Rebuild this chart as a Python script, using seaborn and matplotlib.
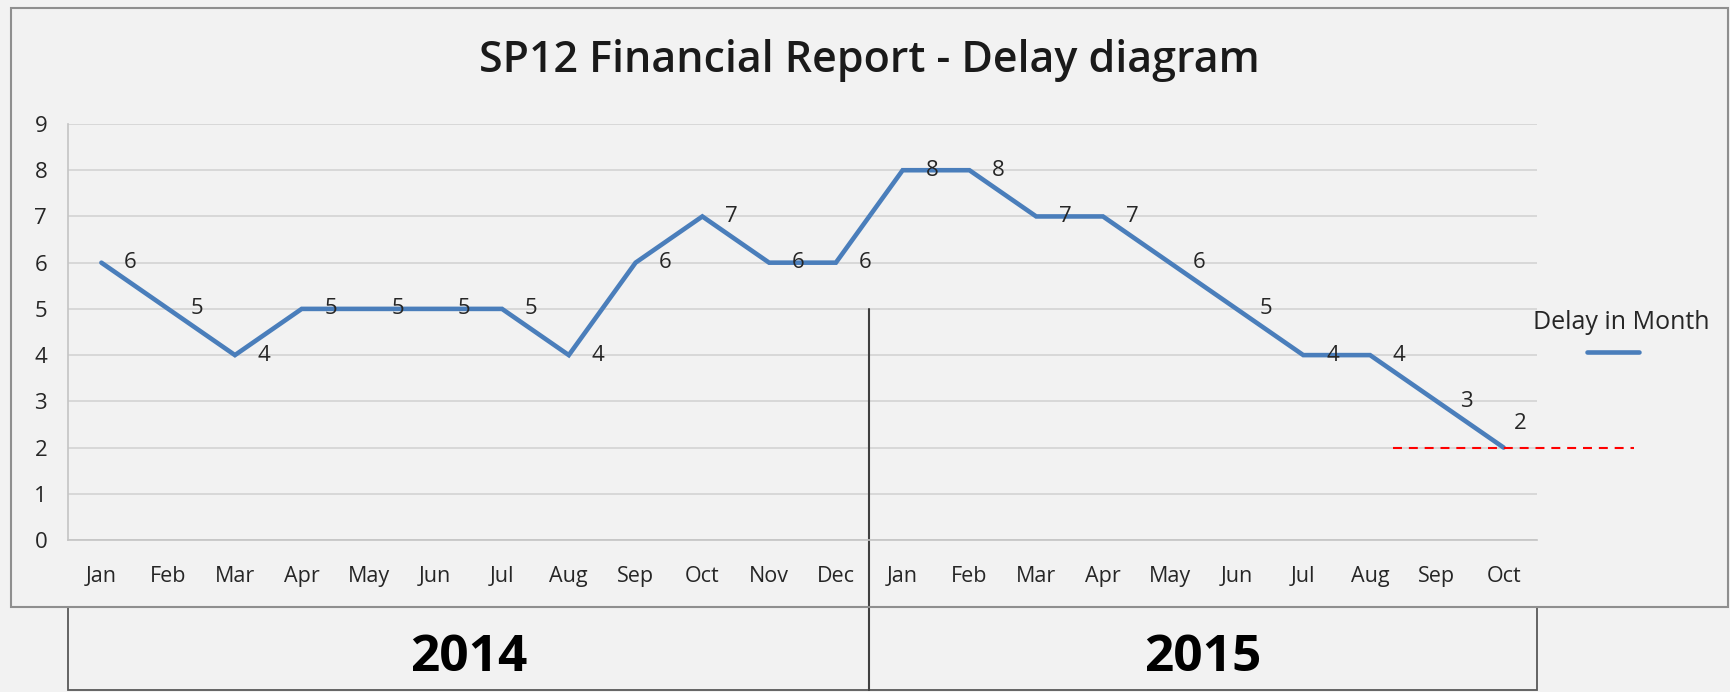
import matplotlib.pyplot as plt
import matplotlib.transforms as mtransforms
import numpy as np
import pandas as pd
import seaborn as sns
from matplotlib.patches import Rectangle

plt.switch_backend("Agg")

# values
months_2014 = ["Jan", "Feb", "Mar", "Apr", "May", "Jun",
               "Jul", "Aug", "Sep", "Oct", "Nov", "Dec"]
months_2015 = ["Jan", "Feb", "Mar", "Apr", "May", "Jun",
               "Jul", "Aug", "Sep", "Oct"]
delay_2014 = [6, 5, 4, 5, 5, 5, 5, 4, 6, 7, 6, 6]
delay_2015 = [8, 8, 7, 7, 6, 5, 4, 4, 3, 2]
years = ["2014", "2015"]
target_delay = 2
series_name = "Delay in Month"
title = "SP12 Financial Report - Delay diagram"

BG = "#f2f2f2"
LINE = "#4a7ebb"
GRID = "#d3d3d3"

sns.set_style("white", {"axes.facecolor": BG, "figure.facecolor": BG})
plt.rcParams["font.family"] = ["Open Sans", "DejaVu Sans"]

labels = months_2014 + months_2015
values = delay_2014 + delay_2015
df = pd.DataFrame({"pos": np.arange(len(values)), "delay": values})

fig = plt.figure(figsize=(17.31, 6.92), dpi=100)
fig.patch.set_facecolor(BG)
W, H = 1731, 692
ax = fig.add_axes([68 / W, 1 - 540 / H, (1537 - 68) / W, (540 - 124) / H])

sns.lineplot(data=df, x="pos", y="delay", ax=ax, color=LINE,
             linewidth=3.3, solid_joinstyle="miter")

ax.set_xlim(-0.5, len(values) - 0.5)
ax.set_ylim(0, 9)
ax.set_yticks(range(0, 10))
ax.set_xticks(df["pos"])
ax.set_xticklabels(labels)
ax.set_xticks(np.arange(-0.5, len(values)), minor=True)
ax.set_xlabel("")
ax.set_ylabel("")
ax.grid(axis="y", color=GRID, linewidth=1.2)
ax.set_axisbelow(True)
for side in ["top", "right"]:
    ax.spines[side].set_visible(False)
for side in ["left", "bottom"]:
    ax.spines[side].set_color("#c4c4c4")
    ax.spines[side].set_linewidth(1.2)
ax.tick_params(axis="x", which="major", length=0, pad=19, labelsize=15.5,
               labelcolor="#262626")
ax.tick_params(axis="x", which="minor", length=6, color="#c4c4c4",
               direction="out")
ax.tick_params(axis="y", length=5, color="#c4c4c4", pad=10, labelsize=16,
               labelcolor="#262626")

# data labels to the right of each point
for i, v in enumerate(values):
    if i == len(values) - 1:
        ax.annotate(str(v), (i, v), xytext=(12, 17), textcoords="offset points",
                    ha="center", va="center", fontsize=16, color="#262626")
    else:
        ax.annotate(str(v), (i, v), xytext=(21, 0), textcoords="offset points",
                    ha="center", va="center", fontsize=16, color="#262626")

# red dashed target line
ax.hlines(target_delay, len(values) - 2.65, len(values) + 0.95, color="red",
          linewidth=1.5, linestyles=(0, (4.3, 3.3)), clip_on=False, zorder=3)

# separator between years
split = len(months_2014) - 0.5
bl = mtransforms.blended_transform_factory(ax.transData, ax.transAxes)
ax.plot([split, split], [-0.361, 5 / 9], transform=bl, color="#404040",
        linewidth=1.5, clip_on=False)

# chart frame
fig.patches.append(Rectangle((11 / W, 1 - 607 / H), (1728 - 11) / W, (607 - 8) / H,
                             transform=fig.transFigure, fill=False,
                             edgecolor="#8f8f8f", linewidth=1.5))

# year boxes under the axis
bf = mtransforms.blended_transform_factory(ax.transData, fig.transFigure)
spans = [(-0.5, len(months_2014)), (split, len(months_2015))]
for year, (x0, width) in zip(years, spans):
    ax.add_patch(Rectangle((x0, 1 - 690 / H), width, (690 - 607) / H,
                           transform=bf, fill=False, edgecolor="#595959",
                           linewidth=1.3, clip_on=False))
    ax.text(x0 + width / 2, 1 - 658 / H, year, transform=bf, ha="center",
            va="center", fontsize=37, fontweight="bold", color="black")

fig.text(869 / W, 1 - 60 / H, title, ha="center", va="center", fontsize=31,
         fontweight="semibold", color="#1a1a1a")

ax.legend([ax.lines[0]], [""], title=series_name, frameon=False,
          alignment="center", loc="center", handlelength=2.7,
          bbox_to_anchor=(1621 / W, 1 - 336 / H),
          bbox_transform=fig.transFigure, title_fontsize=18, fontsize=14)

fig.savefig("out.png", dpi=100, facecolor=BG)
